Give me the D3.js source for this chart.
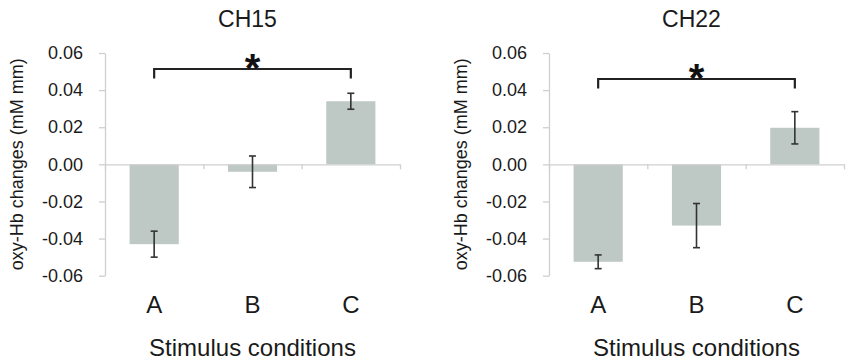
<!DOCTYPE html>
<html>
<head>
<meta charset="utf-8">
<script src="https://cdnjs.cloudflare.com/ajax/libs/d3/7.8.5/d3.min.js"></script>
<style>
  body { margin: 0; background: #fff; }
  svg { display: block; font-family: "Liberation Sans", Arial, sans-serif; }
</style>
</head>
<body>
<div id="chart"></div>
<script>
// values
const categories = ["A", "B", "C"];
const panelTitles = ["CH15", "CH22"];
const ch15Means = [-0.043, -0.004, 0.034];
const ch15Errors = [0.007, 0.0085, 0.0043];
const ch22Means = [-0.0525, -0.033, 0.0197];
const ch22Errors = [0.0037, 0.0119, 0.0087];
const yTicks = [-0.06, -0.04, -0.02, 0, 0.02, 0.04, 0.06];
const sigPairs = [["A", "C"], ["A", "C"]];

const width = 850, height = 363;
const barColor = "#bec8c5";
const axisColor = "#cfcfcf";
const inkColor = "#1a1a1a";

const svg = d3.select("#chart")
  .append("svg")
  .attr("width", width)
  .attr("height", height);

const y = d3.scaleLinear()
  .domain([-0.06, 0.06])
  .range([275.7, 53]);

function drawPanel(left, title, means, errors, pair, bracketY) {
  const plotW = 295;
  const g = svg.append("g").attr("transform", `translate(${left},0)`);

  const x = d3.scaleBand()
    .domain(categories)
    .range([0, plotW])
    .paddingInner(0.5)
    .paddingOuter(0.25);

  const data = categories.map((c, i) => ({ cat: c, mean: means[i], err: errors[i] }));

  // bars
  g.selectAll("rect.bar")
    .data(data)
    .enter()
    .append("rect")
    .attr("class", "bar")
    .attr("x", d => x(d.cat))
    .attr("width", x.bandwidth())
    .attr("y", d => y(Math.max(0, d.mean)))
    .attr("height", d => Math.abs(y(d.mean) - y(0)))
    .attr("fill", barColor);

  // y axis
  const yAxis = g.append("g")
    .call(d3.axisLeft(y)
      .tickValues(yTicks)
      .tickFormat(d => d.toFixed(2))
      .tickSize(6)
      .tickSizeOuter(0)
      .tickPadding(16));
  yAxis.select(".domain").attr("stroke", axisColor).attr("stroke-width", 1.3);
  yAxis.selectAll(".tick line").attr("stroke", axisColor).attr("stroke-width", 1.3);
  yAxis.selectAll(".tick text")
    .attr("fill", inkColor)
    .style("font-size", "18px")
    .style("font-family", "Liberation Sans, Arial, sans-serif");

  // zero line with ticks at category boundaries
  const xEdges = d3.scaleLinear().domain([0, categories.length]).range([0, plotW]);
  const xAxis = g.append("g")
    .attr("transform", `translate(0,${y(0)})`)
    .call(d3.axisBottom(xEdges)
      .tickValues(d3.range(categories.length + 1))
      .tickFormat("")
      .tickSize(5)
      .tickSizeOuter(0));
  xAxis.select(".domain").attr("stroke", axisColor).attr("stroke-width", 1.3);
  xAxis.selectAll(".tick line").attr("stroke", axisColor).attr("stroke-width", 1.3);

  // error bars
  const cx = d => x(d.cat) + x.bandwidth() / 2;
  const capW = 3.5;
  const eb = g.selectAll("g.err")
    .data(data)
    .enter()
    .append("g")
    .attr("class", "err")
    .attr("stroke", "#333")
    .attr("stroke-width", 1.6);
  eb.append("line")
    .attr("x1", cx).attr("x2", cx)
    .attr("y1", d => y(d.mean + d.err))
    .attr("y2", d => y(d.mean - d.err));
  eb.append("line")
    .attr("x1", d => cx(d) - capW).attr("x2", d => cx(d) + capW)
    .attr("y1", d => y(d.mean + d.err)).attr("y2", d => y(d.mean + d.err));
  eb.append("line")
    .attr("x1", d => cx(d) - capW).attr("x2", d => cx(d) + capW)
    .attr("y1", d => y(d.mean - d.err)).attr("y2", d => y(d.mean - d.err));

  // significance bracket
  const bx1 = x(pair[0]) + x.bandwidth() / 2;
  const bx2 = x(pair[1]) + x.bandwidth() / 2;
  g.append("path")
    .attr("d", `M${bx1},${bracketY + 9.5}V${bracketY}H${bx2}V${bracketY + 9.5}`)
    .attr("fill", "none")
    .attr("stroke", "#222")
    .attr("stroke-width", 2.2);
  g.append("text")
    .attr("x", (bx1 + bx2) / 2)
    .attr("y", bracketY + 13)
    .attr("text-anchor", "middle")
    .attr("fill", "#111")
    .style("font-size", "40px")
    .style("font-weight", "bold")
    .text("*");

  // category labels
  g.selectAll("text.cat")
    .data(categories)
    .enter()
    .append("text")
    .attr("class", "cat")
    .attr("x", d => x(d) + x.bandwidth() / 2)
    .attr("y", 313)
    .attr("text-anchor", "middle")
    .attr("fill", inkColor)
    .style("font-size", "24px")
    .text(d => d);

  // title
  g.append("text")
    .attr("x", plotW / 2 - 5)
    .attr("y", 27)
    .attr("text-anchor", "middle")
    .attr("fill", inkColor)
    .style("font-size", "23px")
    .text(title);

  // x title
  g.append("text")
    .attr("x", plotW / 2)
    .attr("y", 356)
    .attr("text-anchor", "middle")
    .attr("fill", inkColor)
    .style("font-size", "24px")
    .text("Stimulus conditions");

  // y title
  g.append("text")
    .attr("transform", `translate(-82,${(y(0.06) + y(-0.06)) / 2}) rotate(-90)`)
    .attr("text-anchor", "middle")
    .attr("fill", inkColor)
    .style("font-size", "18px")
    .text("oxy-Hb changes (mM mm)");
}

drawPanel(105, panelTitles[0], ch15Means, ch15Errors, sigPairs[0], 69);
drawPanel(549, panelTitles[1], ch22Means, ch22Errors, sigPairs[1], 79);
</script>
</body>
</html>
